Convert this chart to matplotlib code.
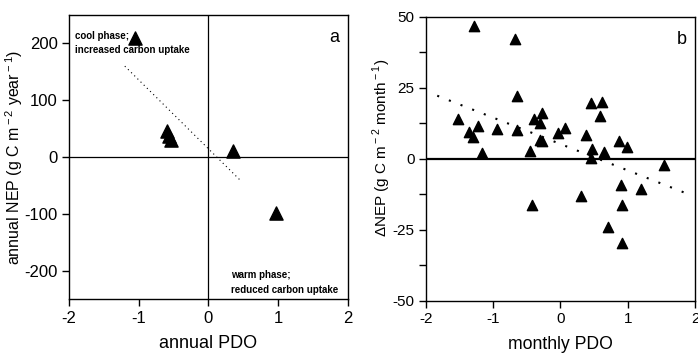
import numpy as np
import matplotlib.pyplot as plt
from matplotlib.ticker import MultipleLocator

plt.rcParams['font.family'] = ['Liberation Sans', 'DejaVu Sans']
plt.rcParams['axes.unicode_minus'] = False
plt.rcParams['mathtext.fontset'] = 'custom'
plt.rcParams['mathtext.rm'] = 'Liberation Sans'

# panel a: annual PDO vs annual NEP
pdo_annual = [-1.05, -0.60, -0.57, -0.54, 0.35, 0.97]
nep_annual = [210, 46, 38, 31, 11, -99]
fit_a_x = [-1.2, 0.47]
fit_a_y = [160, -42]

# panel b: monthly PDO vs delta NEP
pdo_monthly = [-1.29, -0.67, -1.52, -1.36, -1.30, -1.22, -1.17, -0.95, -0.64, -0.64,
               -0.45, -0.39, -0.28, -0.30, -0.30, -0.27, -0.43, -0.03, 0.06, 0.38,
               0.31, 0.45, 0.62, 0.58, 0.47, 0.46, 0.64, 0.87, 0.99, 0.90,
               0.91, 0.71, 0.92, 1.20, 1.53]
dnep_monthly = [46.7, 42.0, 14.0, 9.3, 7.8, 11.4, 2.2, 10.4, 22.0, 10.2,
                2.9, 13.9, 16.0, 12.5, 6.7, 6.1, -16.4, 9.0, 10.7, 8.4,
                -13.0, 19.8, 20.1, 15.2, 3.6, 0.2, 2.5, 6.1, 4.3, -9.4,
                -16.4, -24.0, -29.6, -10.5, -2.3]
fit_b_x = [-1.83, 1.85]
fit_b_y = [22.2, -12.0]

fig = plt.figure(figsize=(6.98, 3.56), dpi=100)
ax1 = fig.add_axes([0.099, 0.159, 0.399, 0.799])
ax2 = fig.add_axes([0.61, 0.155, 0.386, 0.798])

####Panel a####
ax1.axhline(0, color='black', lw=0.9)
ax1.axvline(0, color='black', lw=0.9)
ax1.plot(fit_a_x, fit_a_y, color='black', lw=0.8, ls=(0, (1, 3)))
ax1.scatter(pdo_annual, nep_annual, marker='^', s=90, color='black', zorder=3)
ax1.set_xlim(-2, 2)
ax1.set_ylim(-250, 250)
ax1.set_xticks([-2, -1, 0, 1, 2])
ax1.set_yticks([-200, -100, 0, 100, 200])
ax1.set_xlabel('annual PDO', fontsize=13, labelpad=7)
ax1.set_ylabel(r'annual NEP (g C m$^{\rm -2}$ year$^{\rm -1}$)', fontsize=11.5)
ax1.yaxis.set_label_coords(-0.16, 0.5)
ax1.text(0.97, 0.95, 'a', transform=ax1.transAxes, ha='right', va='top', fontsize=13)
ax1.text(0.02, 0.945, 'cool phase;\nincreased carbon uptake', transform=ax1.transAxes,
         ha='left', va='top', fontsize=7, fontweight='bold', linespacing=1.6)
ax1.text(0.58, 0.015, 'warm phase;\nreduced carbon uptake', transform=ax1.transAxes,
         ha='left', va='bottom', fontsize=7, fontweight='bold', linespacing=1.6)

####Panel b####
ax2.axhline(0, color='black', lw=1.6)
ax2.plot(fit_b_x, fit_b_y, color='black', lw=1.5, ls=(0, (1, 5)))
ax2.scatter(pdo_monthly, dnep_monthly, marker='^', s=55, color='black', zorder=3)
ax2.set_xlim(-2, 2)
ax2.set_ylim(-50, 50)
ax2.set_xticks([-2, -1, 0, 1, 2])
ax2.set_yticks([-50, -25, 0, 25, 50])
ax2.yaxis.set_minor_locator(MultipleLocator(12.5))
ax2.set_xlabel('monthly PDO', fontsize=12.7, labelpad=7)
ax2.set_ylabel(r'$\Delta$NEP (g C m$^{\rm -2}$ month$^{\rm -1}$)', fontsize=11)
ax2.yaxis.set_label_coords(-0.12, 0.54)
ax2.text(0.97, 0.95, 'b', transform=ax2.transAxes, ha='right', va='top', fontsize=13)

for ax in (ax1, ax2):
    for s in ax.spines.values():
        s.set_linewidth(1.0)
    ax.tick_params(which='both', direction='out', width=1.0, length=5, pad=3)
ax1.tick_params(labelsize=12)
ax2.tick_params(labelsize=11)

fig.savefig('out.png', dpi=100)
